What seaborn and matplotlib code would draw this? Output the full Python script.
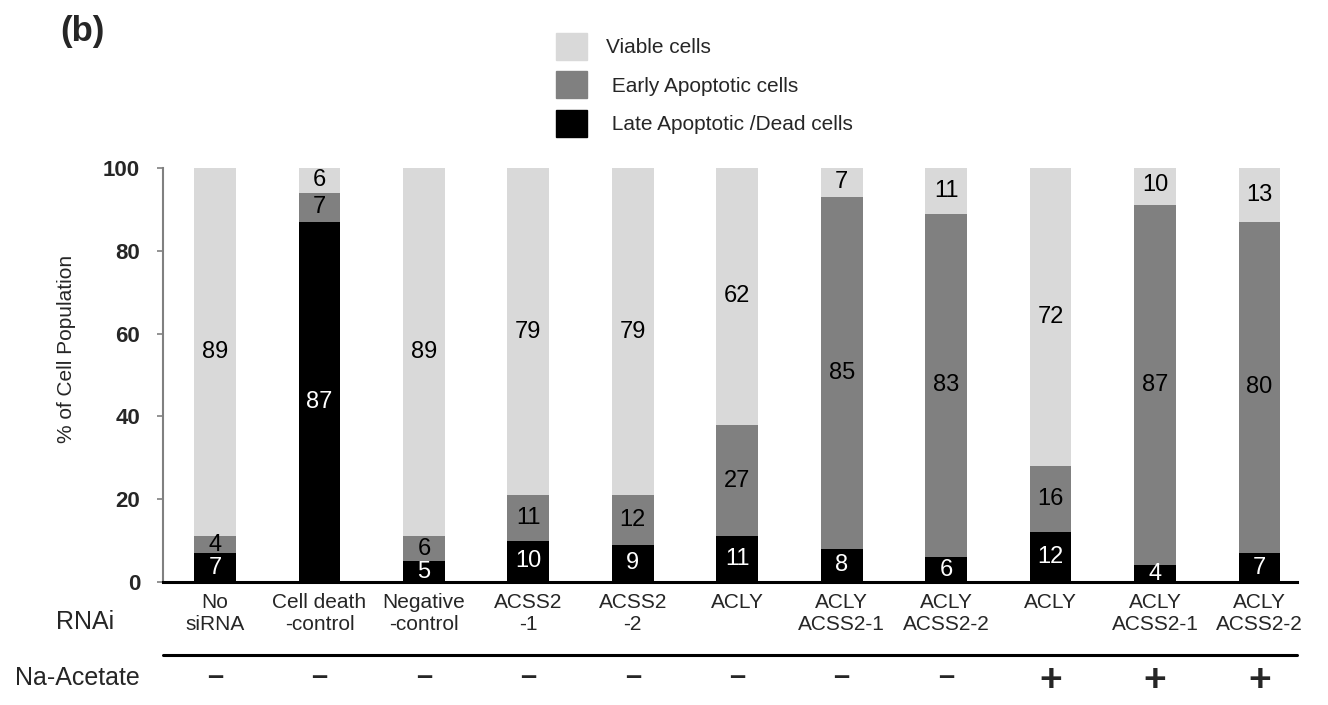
import matplotlib
matplotlib.use("Agg")
import matplotlib.pyplot as plt
import seaborn as sns
import pandas as pd
from matplotlib.patches import Patch
from matplotlib.transforms import blended_transform_factory

sns.set_theme(style="white")
plt.rcParams['font.family'] = ['Liberation Sans', 'DejaVu Sans']

# ---- data ----
categories = ["No\nsiRNA", "Cell death\n-control", "Negative\n-control", "ACSS2\n-1", "ACSS2\n-2",
              "ACLY", "ACLY\nACSS2-1", "ACLY\nACSS2-2", "ACLY", "ACLY\nACSS2-1", "ACLY\nACSS2-2"]
late_dead = [7, 87, 5, 10, 9, 11, 8, 6, 12, 4, 7]
early_apop = [4, 7, 6, 11, 12, 27, 85, 83, 16, 87, 80]
viable = [89, 6, 89, 79, 79, 62, 7, 11, 72, 10, 13]
na_acetate = ["–", "–", "–", "–", "–", "–", "–", "–", "+", "+", "+"]
series_names = ["Viable cells", " Early Apoptotic cells", " Late Apoptotic /Dead cells"]
yticks = [0, 20, 40, 60, 80, 100]

c_viable, c_early, c_dead = "#d9d9d9", "#808080", "#000000"

ids = [f"c{i}" for i in range(len(categories))]
df = pd.DataFrame({
    "id": ids,
    "dead": late_dead,
    "early_cum": [d + e for d, e in zip(late_dead, early_apop)],
    "total": [d + e + v for d, e, v in zip(late_dead, early_apop, viable)],
})

W, H = 1328, 705
fig = plt.figure(figsize=(W / 100, H / 100), dpi=100)
ax = fig.add_axes([163 / W, 1 - 582 / H, 1134 / W, (582 - 168) / H])

bw = 0.40
sns.barplot(data=df, x="id", y="total", order=ids, color=c_viable, width=bw,
            saturation=1, linewidth=0, ax=ax)
sns.barplot(data=df, x="id", y="early_cum", order=ids, color=c_early, width=bw,
            saturation=1, linewidth=0, ax=ax)
sns.barplot(data=df, x="id", y="dead", order=ids, color=c_dead, width=bw,
            saturation=1, linewidth=0, ax=ax)

# value labels
lab_fs = 17
for i in range(len(ids)):
    d, e, v = late_dead[i], early_apop[i], viable[i]
    ax.text(i, d / 2, str(d), ha="center", va="center", color="white", fontsize=lab_fs)
    ax.text(i, d + e / 2, str(e), ha="center", va="center", color="black", fontsize=lab_fs)
    ax.text(i, d + e + v / 2, str(v), ha="center", va="center", color="black", fontsize=lab_fs)

ax.set_xlim(-0.498, 10.36)
ax.set_ylim(0, 100)
ax.set_yticks(yticks)
ax.set_yticklabels([str(t) for t in yticks], fontsize=16, fontweight="bold")
ax.set_xticks(range(len(ids)))
ax.set_xticklabels(categories, fontsize=15, linespacing=1.2)
ax.set_xlabel("")
ax.set_ylabel("")

for s in ["top", "right"]:
    ax.spines[s].set_visible(False)
ax.spines["left"].set_color("#808080")
ax.spines["left"].set_linewidth(1.5)
ax.spines["bottom"].set_color("black")
ax.spines["bottom"].set_linewidth(2.2)
ax.spines["bottom"].set_zorder(5)
ax.tick_params(axis="y", direction="out", length=4.5, width=1.2, color="#808080", pad=12, left=True)
ax.tick_params(axis="x", length=0, pad=8)
ax.grid(False)

fig.text(67 / W, 1 - 349 / H, "% of Cell Population", rotation=90, ha="center", va="center",
         fontsize=15)

# row labels
fig.text(85 / W, 1 - 622 / H, "RNAi", ha="center", va="center", fontsize=18)
fig.text(77 / W, 1 - 678 / H, "Na-Acetate", ha="center", va="center", fontsize=18)
fig.add_artist(plt.Line2D([163 / W, 1297 / W], [1 - 655 / H, 1 - 655 / H],
                          color="black", lw=2.2))
trans = blended_transform_factory(ax.transData, fig.transFigure)
for i, s in enumerate(na_acetate):
    if s == "+":
        ax.text(i, 1 - 681 / H, s, transform=trans, ha="center", va="center",
                fontsize=28, fontweight="bold", clip_on=False)
    else:
        ax.text(i, 1 - 677 / H, s, transform=trans, ha="center", va="center",
                fontsize=21, fontweight="bold", clip_on=False)

fig.text(60 / W, 1 - 31 / H, "(b)", ha="left", va="center", fontsize=25, fontweight="bold")

handles = [Patch(color=c_viable), Patch(color=c_early), Patch(color=c_dead)]
fig.legend(handles, series_names, loc="upper left", bbox_to_anchor=(556 / W, 1 - 33 / H),
           frameon=False, fontsize=15, handlelength=1.5, handleheight=1.6,
           labelspacing=0.56, handletextpad=0.9, borderpad=0, borderaxespad=0)

fig.savefig("out.png", dpi=100)
